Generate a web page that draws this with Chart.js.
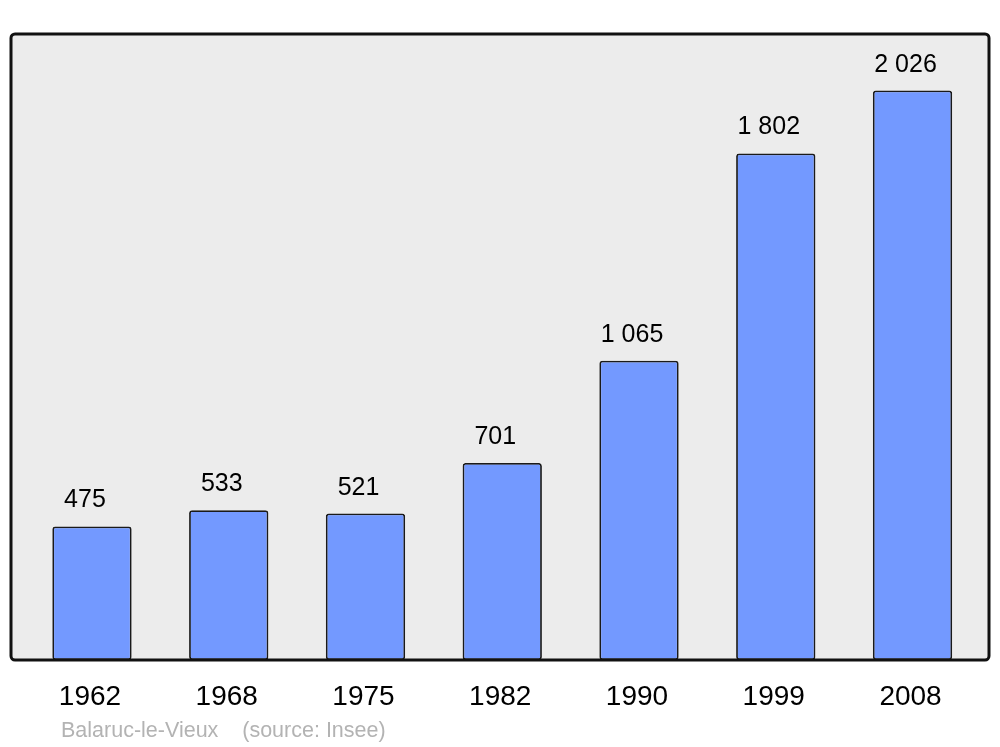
<!DOCTYPE html>
<html>
<head>
<meta charset="utf-8">
<script src="https://cdn.jsdelivr.net/npm/chart.js@4"></script>
<style>
  html, body { margin: 0; padding: 0; background: #fff; }
  #wrap { width: 1000px; height: 747px; position: relative; }
</style>
</head>
<body>
<div id="wrap"><canvas id="popChart" width="1000" height="747"></canvas></div>
<script>
// population per census year
const years = ['1962', '1968', '1975', '1982', '1990', '1999', '2008'];
const population = [475, 533, 521, 701, 1065, 1802, 2026];
const footerText = 'Balaruc-le-Vieux    (source: Insee)';

const FONT = '"Liberation Sans", Arial, sans-serif';

function fmt(n) {
    return String(n).replace(/\B(?=(\d{3})+(?!\d))/g, ' ');
}

// background box + frame, value labels, year labels, footer
const framePlugin = {
    id: 'frame',
    beforeDraw(chart) {
        const ctx = chart.ctx;
        ctx.save();
        ctx.beginPath();
        ctx.roundRect(11, 34, 978, 626, 4);
        ctx.fillStyle = '#ececec';
        ctx.fill();
        ctx.restore();
    },
    afterDatasetsDraw(chart) {
        const ctx = chart.ctx;
        ctx.save();
        ctx.beginPath();
        ctx.roundRect(11, 34, 978, 626, 4);
        ctx.lineWidth = 3;
        ctx.strokeStyle = '#111';
        ctx.stroke();

        // values above bars
        const meta = chart.getDatasetMeta(0);
        ctx.fillStyle = '#000';
        ctx.textAlign = 'center';
        ctx.textBaseline = 'alphabetic';
        ctx.font = '25px ' + FONT;
        meta.data.forEach((bar, i) => {
            ctx.fillText(fmt(population[i]), bar.x - 7, bar.y - 19);
        });

        // year labels under the frame
        const xs = chart.scales.x;
        ctx.font = '28px ' + FONT;
        years.forEach((y, i) => {
            ctx.fillText(y, xs.getPixelForValue(i) - 2, 705);
        });

        // footer
        ctx.textAlign = 'left';
        ctx.fillStyle = '#b3b3b3';
        ctx.font = '21.5px ' + FONT;
        ctx.fillText(footerText, 61, 737);
        ctx.restore();
    }
};

new Chart(document.getElementById('popChart'), {
    type: 'bar',
    data: {
        labels: years,
        datasets: [{
            data: population,
            backgroundColor: '#7399ff',
            borderColor: '#1a1a1a',
            borderWidth: 1.8,
            borderRadius: 3,
            borderSkipped: false,
            barPercentage: 0.58,
            categoryPercentage: 1
        }]
    },
    options: {
        responsive: false,
        animation: false,
        devicePixelRatio: 1,
        layout: {
            padding: { left: 23.6, right: 19.1, top: 34, bottom: 87 }
        },
        scales: {
            x: { display: false },
            y: { display: false, min: 0, max: 2227 }
        },
        plugins: {
            legend: { display: false },
            tooltip: { enabled: false }
        }
    },
    plugins: [framePlugin]
});
</script>
</body>
</html>
